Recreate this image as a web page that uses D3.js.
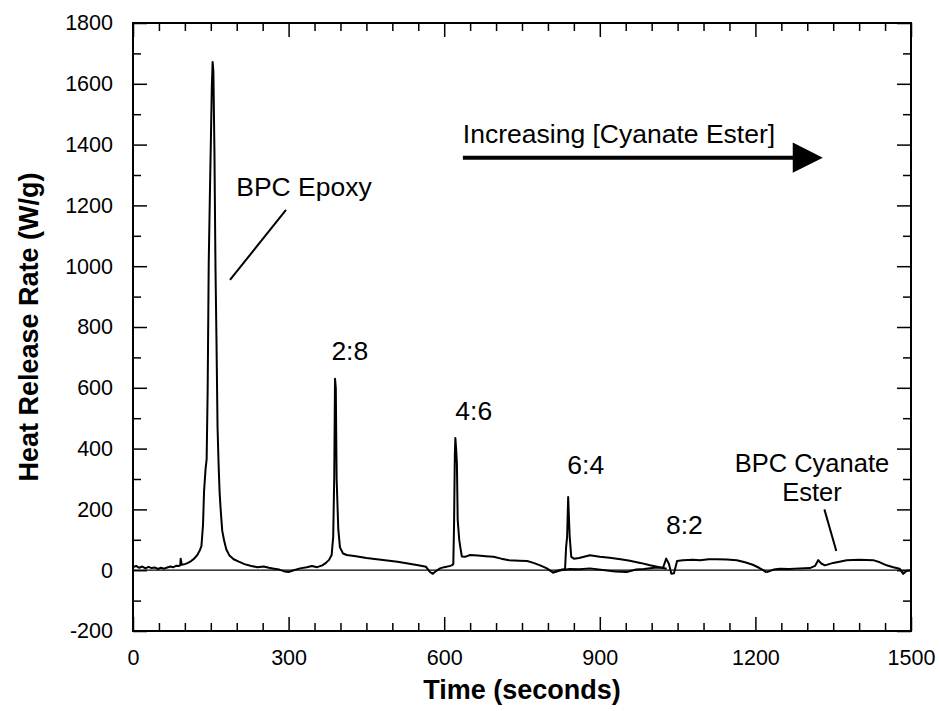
<!DOCTYPE html>
<html>
<head>
<meta charset="utf-8">
<script src="https://cdn.jsdelivr.net/npm/d3@7"></script>
<style>
  body { margin: 0; background: #fff; }
  text { font-family: "Liberation Sans", Arial, sans-serif; fill: #000; }
</style>
</head>
<body>
<svg id="viz"></svg>
<script>
// heat release rate runs, [time (s), HRR (W/g)]
const epoxy = [[0,10],[6,14],[12,8],[18,12],[24,6],[30,11],[36,7],[42,9],[48,4],[54,8],[60,5],[66,9],[72,12],[78,10],[84,15],[88,14],[91,16],[92,38],[94,18],[100,20],[106,24],[112,30],[118,38],[124,50],[129,66],[132,80],[135,150],[137,260],[140,335],[142,365],[144,600],[146,1010],[148,1210],[150,1400],[152,1590],[153.5,1672],[155,1640],[157,1380],[159,1000],[161,750],[163,470],[165,350],[167,255],[169,200],[172,130],[176,95],[180,68],[186,48],[194,36],[204,28],[215,20],[228,14],[240,10],[252,12],[262,8],[272,5],[282,2],[292,-4],[300,-6],[310,0],[322,6]];
const ce28 = [[322,6],[335,10],[345,14],[355,10],[365,16],[372,24],[378,34],[383,50],[386,110],[388,310],[389.5,630],[391,600],[392.6,300],[395.8,135],[399,75],[405,55],[412,50],[430,46],[450,40],[470,36],[490,32],[510,28],[530,22],[550,16],[565,11],[572,-5],[578,-12],[585,-2],[592,6],[600,10],[614,15]];
const ce46 = [[614,15],[617.5,20],[619,150],[620.5,380],[621.5,435],[623,400],[624.5,350],[626,166],[629,100],[631,77],[634,45],[640,44],[650,50],[665,48],[680,46],[695,44],[710,38],[725,33],[745,31],[760,30],[772,24],[785,16],[798,6],[810,-8],[818,-2],[826,2],[833,3]];
const ce64 = [[833,3],[835,75],[837,110],[839,241],[841,150],[842,109],[845,44],[850,38],[860,40],[881,49],[900,44],[919,41],[940,36],[958,31],[978,24],[997,16],[1015,10],[1029,5]];
const ce82 = [[810,-8],[825,0],[842,4],[860,3],[881,6],[910,0],[930,-4],[952,-6],[970,2],[985,4],[1005,8],[1022,8],[1028,38],[1033,22],[1038,-12],[1043,-10],[1049,30],[1060,33],[1080,34],[1093,33],[1110,36],[1125,36],[1145,35],[1164,33],[1180,26],[1195,18],[1207,8],[1215,0],[1221,-7]];
const cyanate = [[1221,-7],[1235,2],[1247,5],[1265,4],[1285,6],[1305,7],[1315,14],[1321,33],[1327,22],[1334,16],[1342,20],[1350,24],[1362,28],[1376,33],[1400,34],[1427,33],[1440,26],[1453,16],[1466,10],[1478,5],[1485,-12],[1492,-2],[1500,0]];

const xMajor = [0, 300, 600, 900, 1200, 1500];
const yMajor = [-200, 0, 200, 400, 600, 800, 1000, 1200, 1400, 1600, 1800];

// annotations: [label, time, value]
const peakLabels = [["2:8", 418, 690], ["4:6", 657, 495], ["6:4", 873, 315], ["8:2", 1063, 120]];

const width = 940, height = 711;
const margin = {top: 23, right: 29, bottom: 80, left: 133};
const w = width - margin.left - margin.right;
const h = height - margin.top - margin.bottom;

const svg = d3.select("#viz").attr("width", width).attr("height", height);
const g = svg.append("g").attr("transform", `translate(${margin.left},${margin.top})`);

const x = d3.scaleLinear().domain([0, 1500]).range([0, w]);
const y = d3.scaleLinear().domain([-200, 1800]).range([h, 0]);

const xMinor = d3.range(0, 1501, 50).filter(d => d % 300);
const yMinor = d3.range(-200, 1801, 100).filter(d => d % 200);

function styleAxis(sel) {
    sel.select(".domain").remove();
    sel.selectAll(".tick line").attr("stroke", "#000").attr("stroke-width", 1.5);
    sel.selectAll(".tick text").style("font-size", "21.5px").attr("fill", "#000");
}

const plain = d => String(d);

// bottom & top
g.append("g").attr("transform", `translate(0,${h})`)
    .call(d3.axisBottom(x).tickValues(xMajor).tickSize(-14).tickPadding(19).tickFormat(plain))
    .call(styleAxis);
g.append("g").attr("transform", `translate(0,${h})`)
    .call(d3.axisBottom(x).tickValues(xMinor).tickSize(-8).tickFormat(""))
    .call(styleAxis);
g.append("g")
    .call(d3.axisTop(x).tickValues(xMajor).tickSize(-14).tickFormat(""))
    .call(styleAxis);
g.append("g")
    .call(d3.axisTop(x).tickValues(xMinor).tickSize(-8).tickFormat(""))
    .call(styleAxis);

// left & right
g.append("g")
    .call(d3.axisLeft(y).tickValues(yMajor).tickSize(-14).tickPadding(20).tickFormat(plain))
    .call(styleAxis);
g.append("g")
    .call(d3.axisLeft(y).tickValues(yMinor).tickSize(-8).tickFormat(""))
    .call(styleAxis);
g.append("g").attr("transform", `translate(${w},0)`)
    .call(d3.axisRight(y).tickValues(yMajor).tickSize(-14).tickFormat(""))
    .call(styleAxis);
g.append("g").attr("transform", `translate(${w},0)`)
    .call(d3.axisRight(y).tickValues(yMinor).tickSize(-8).tickFormat(""))
    .call(styleAxis);

// frame
g.append("rect").attr("width", w).attr("height", h)
    .attr("fill", "none").attr("stroke", "#000").attr("stroke-width", 2);

// zero line
g.append("line")
    .attr("x1", 0).attr("x2", w)
    .attr("y1", y(0)).attr("y2", y(0))
    .attr("stroke", "#000").attr("stroke-width", 1.2);

const line = d3.line().x(d => x(d[0])).y(d => y(d[1]));

g.selectAll("path.run")
    .data([epoxy, ce28, ce46, ce64, ce82, cyanate])
    .enter()
        .append("path")
        .attr("class", "run")
        .attr("d", line)
        .attr("fill", "none")
        .attr("stroke", "#000")
        .attr("stroke-width", 2)
        .attr("stroke-linejoin", "round");

// peak labels
g.selectAll("text.peak")
    .data(peakLabels)
    .enter()
        .append("text")
        .attr("class", "peak")
        .attr("x", d => x(d[1]))
        .attr("y", d => y(d[2]))
        .attr("text-anchor", "middle")
        .style("font-size", "26.5px")
        .text(d => d[0]);

// BPC Epoxy
g.append("text").attr("x", x(199)).attr("y", y(1230))
    .style("font-size", "26.5px").text("BPC Epoxy");
g.append("line")
    .attr("x1", x(187)).attr("y1", y(955))
    .attr("x2", x(295)).attr("y2", y(1185))
    .attr("stroke", "#000").attr("stroke-width", 2);

// BPC Cyanate Ester
g.append("text").attr("text-anchor", "middle").style("font-size", "25.5px")
    .attr("x", x(1309)).attr("y", y(324)).text("BPC Cyanate");
g.append("text").attr("text-anchor", "middle").style("font-size", "25.5px")
    .attr("x", x(1309)).attr("y", y(226)).text("Ester");
g.append("line")
    .attr("x1", x(1333)).attr("y1", y(200))
    .attr("x2", x(1356)).attr("y2", y(63))
    .attr("stroke", "#000").attr("stroke-width", 2);

// arrow
g.append("text").attr("x", x(636)).attr("y", y(1405))
    .style("font-size", "26.5px").text("Increasing [Cyanate Ester]");
g.append("line")
    .attr("x1", x(636)).attr("x2", x(1275))
    .attr("y1", y(1357)).attr("y2", y(1357))
    .attr("stroke", "#000").attr("stroke-width", 4);
g.append("path")
    .attr("d", `M${x(1272)},${y(1407)}L${x(1330)},${y(1357)}L${x(1272)},${y(1307)}Z`)
    .attr("fill", "#000");

// axis titles
svg.append("text")
    .attr("x", margin.left + w / 2).attr("y", 699)
    .attr("text-anchor", "middle")
    .style("font-size", "27px").style("font-weight", "bold")
    .text("Time (seconds)");
svg.append("text")
    .attr("transform", `translate(38,${margin.top + h / 2}) rotate(-90)`)
    .attr("text-anchor", "middle")
    .style("font-size", "27px").style("font-weight", "bold")
    .text("Heat Release Rate (W/g)");
</script>
</body>
</html>
